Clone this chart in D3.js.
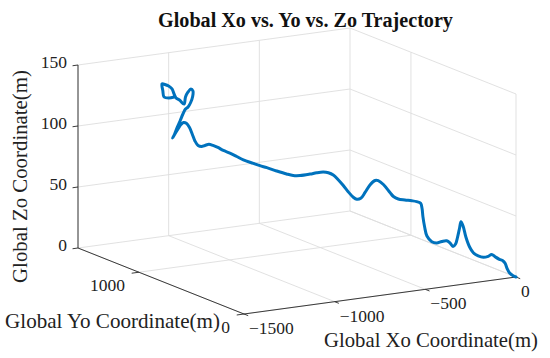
<!DOCTYPE html>
<html><head><meta charset="utf-8">
<script src="https://cdn.jsdelivr.net/npm/d3@7"></script>
<style>body{margin:0;background:#fff}svg{display:block}</style>
</head><body>
<svg id="c" width="550" height="358"></svg>
<script>
const xTicks=[-1500,-1000,-500,0];
const xTickLabels=["\u22121500","\u22121000","\u2212500","0"];
const yTicks=[0,1000];
const yTickLabels=["0","1000"];
const zTicks=[0,50,100,150];
const zTickLabels=["0","50","100","150"];
const titleText="Global Xo vs. Yo vs. Zo Trajectory";
const xTitle="Global Xo Coordinate(m)";
const yTitle="Global Yo Coordinate(m)";
const zTitle="Global Zo Coordinate(m)";

const trajX=[-1194,-1212,-1229,-1233,-1236,-1226,-1213,-1201,-1194,-1187,-1175,-1159,-1154,-1145,-1135,-1128,-1129,-1136,-1145,-1154,-1163,-1173,-1184,-1192,-1199,-1191,-1178,-1170,-1161,-1151,-1140,-1130,-1121,-1110,-1098,-1086,-1072,-1058,-1041,-1022,-999,-975,-952,-917,-894,-870,-836,-801,-778,-754,-719,-696,-673,-655,-638,-620,-603,-586,-568,-556,-542,-527,-510,-492,-481,-463,-440,-428,-411,-388,-364,-347,-333,-328,-325,-319,-311,-294,-277,-259,-242,-230,-220,-211,-204,-197,-192,-184,-175,-162,-149,-132,-114,-97,-85,-73,-58,-46,-38,-31,-23,-10,0];
const trajY=[1194,1212,1229,1233,1236,1226,1213,1201,1194,1187,1175,1159,1154,1145,1135,1128,1129,1136,1145,1154,1163,1173,1184,1192,1199,1191,1178,1170,1161,1151,1140,1130,1121,1110,1098,1086,1072,1058,1041,1022,999,975,952,917,894,870,836,801,778,754,719,696,673,655,638,620,603,586,568,556,542,527,510,492,481,463,440,428,411,388,364,347,333,328,325,319,311,294,277,259,242,230,220,211,204,197,192,184,175,162,149,132,114,97,85,73,58,46,38,31,23,10,0];
const trajZ=[130.8,129.7,130.3,135.2,140.9,140.6,139.5,137.3,133.3,130.1,128.6,125.5,131.4,135.6,138.2,136.6,132.1,127.1,123.3,121.5,117.3,111.4,105.5,100.5,97.1,100.5,105.6,108.6,110.4,109.9,106.6,101.0,95.8,92.2,91.6,92.6,93.7,93.0,91.6,89.4,87.6,85.1,82.6,80.3,78.7,77.4,75.2,73.2,72.3,72.6,74.3,75.7,76.6,76.3,74.7,70.8,66.5,61.7,57.4,55.9,56.9,61.9,68.3,72.2,72.2,69.3,63.1,60.0,58.2,57.7,57.4,56.9,55.7,51.5,44.9,36.5,29.2,24.8,24.0,25.5,26.3,24.6,21.9,24.1,29.9,37.4,42.6,38.6,30.3,22.3,17.8,15.4,14.5,15.6,17.3,15.6,13.7,12.7,10.7,6.5,3.2,0.9,0];

const xDomain=[-1500,0], yDomain=[0,1580], zDomain=[0,150];
const origin=[244,314];
const xH=d3.scaleLinear().domain(xDomain).range([0,272]);
const xV=d3.scaleLinear().domain(xDomain).range([0,-37]);
const yH=d3.scaleLinear().domain(yDomain).range([0,-166]);
const yV=d3.scaleLinear().domain(yDomain).range([0,-66]);
const zV=d3.scaleLinear().domain(zDomain).range([0,-183]);
function P(x,y,z){return [origin[0]+xH(x)+yH(y), origin[1]+xV(x)+yV(y)+zV(z)];}

const svg=d3.select("#c");
const [x0,x1]=xDomain,[y0,y1]=yDomain,[z0,z1]=zDomain;

const grid=[];
zTicks.forEach(z=>grid.push([[x0,y1,z],[x1,y1,z]]));
xTicks.forEach(x=>grid.push([[x,y1,z0],[x,y1,z1]]));
zTicks.forEach(z=>grid.push([[x1,y0,z],[x1,y1,z]]));
yTicks.forEach(y=>grid.push([[x1,y,z0],[x1,y,z1]]));
xTicks.forEach(x=>grid.push([[x,y0,z0],[x,y1,z0]]));
yTicks.forEach(y=>grid.push([[x0,y,z0],[x1,y,z0]]));

svg.append("g").selectAll("line").data(grid).join("line")
  .attr("x1",d=>P(...d[0])[0]).attr("y1",d=>P(...d[0])[1])
  .attr("x2",d=>P(...d[1])[0]).attr("y2",d=>P(...d[1])[1])
  .attr("stroke","#dedede").attr("stroke-width",0.9);

const axisColor="#262626";
const axes=[[[x0,y1,z0],[x0,y1,z1]],[[x0,y0,z0],[x0,y1,z0]],[[x0,y0,z0],[x1,y0,z0]]];
const ticks=[];
zTicks.forEach(z=>ticks.push([[x0,y1,z],[x0-30,y1,z]]));
yTicks.forEach(y=>ticks.push([[x0,y,z0],[x0-40,y,z0]]));
xTicks.forEach(x=>ticks.push([[x,y0,z0],[x,y0-40,z0]]));
svg.append("g").selectAll("line").data(axes.concat(ticks)).join("line")
  .attr("x1",d=>P(...d[0])[0]).attr("y1",d=>P(...d[0])[1])
  .attr("x2",d=>P(...d[1])[0]).attr("y2",d=>P(...d[1])[1])
  .attr("stroke",axisColor).attr("stroke-width",0.9);

const font="'Liberation Serif', serif";
const tg=svg.append("g").attr("font-family",font).attr("fill","#222").attr("font-size",17.5);
zTicks.forEach((z,i)=>{const p=P(x0,y1,z);
  tg.append("text").attr("x",67).attr("y",p[1]-3).attr("text-anchor","end").attr("dominant-baseline","central").text(zTickLabels[i]);});
yTicks.forEach((y,i)=>{const p=P(x0,y,z0);
  tg.append("text").attr("x",p[0]-14).attr("y",p[1]+13).attr("text-anchor","end").attr("dominant-baseline","central").text(yTickLabels[i]);});
xTicks.forEach((x,i)=>{const p=P(x,y0,z0);
  tg.append("text").attr("x",p[0]+5).attr("y",p[1]+14).attr("text-anchor","start").attr("dominant-baseline","central").text(xTickLabels[i]);});

function fit(sel,w){const L=sel.node().getComputedTextLength();const fs=parseFloat(sel.attr("font-size"));sel.attr("font-size",fs*w/L);}
const t=svg.append("text").attr("x",305.5).attr("y",27).attr("text-anchor","middle").attr("font-family",font).attr("font-weight","bold").attr("font-size",17).attr("fill","#111").text(titleText);
fit(t,295);
const xl=svg.append("text").attr("x",431).attr("y",347).attr("text-anchor","middle").attr("font-family",font).attr("font-size",19).attr("fill","#222").text(xTitle);
fit(xl,214);
const yl=svg.append("text").attr("x",112.5).attr("y",328).attr("text-anchor","middle").attr("font-family",font).attr("font-size",19).attr("fill","#222").text(yTitle);
fit(yl,215);
const zl=svg.append("text").attr("transform","translate(27,176.5) rotate(-90)").attr("text-anchor","middle").attr("font-family",font).attr("font-size",19).attr("fill","#222").text(zTitle);
fit(zl,213);

const idx=d3.range(trajX.length);
const line=d3.line().x(i=>P(trajX[i],trajY[i],trajZ[i])[0]).y(i=>P(trajX[i],trajY[i],trajZ[i])[1]).curve(d3.curveCatmullRom.alpha(0.5));
svg.append("path").attr("d",line(idx)).attr("fill","none").attr("stroke","#0072BD").attr("stroke-width",3).attr("stroke-linejoin","round").attr("stroke-linecap","round");
</script>
</body></html>
